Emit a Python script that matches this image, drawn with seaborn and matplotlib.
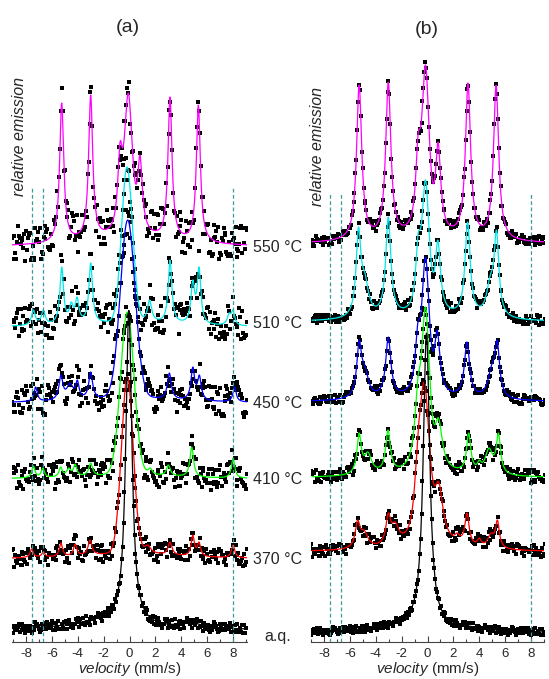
import numpy as np
import seaborn as sns
from matplotlib import pyplot as plt

sns.set_style('white')
plt.rcParams['font.family'] = ['Liberation Sans', 'DejaVu Sans']
plt.rcParams['mathtext.fontset'] = 'custom'
plt.rcParams['mathtext.it'] = 'Liberation Sans:italic'
plt.rcParams['mathtext.rm'] = 'Liberation Sans'
plt.rcParams['axes.unicode_minus'] = False

# spectrum labels and fit colours (top to bottom)
labels = ['550 °C', '510 °C', '450 °C', '410 °C', '370 °C', 'a.q.']
colors = ['#ff00ff', '#00e8e8', '#0000ff', '#00ff00', '#ff0000', '#000000']

# baseline offsets (relative emission units) and scatter of data points
a_baseline = [395, 315, 239, 163, 83, 12]
b_baseline = [398, 320, 240, 164, 90, 9]
a_noise = [15, 13, 12, 10, 7, 4]
b_noise = [4, 4, 3.5, 5, 5, 3]

# fitted lines: (position mm/s, height above baseline, HWHM mm/s, lorentz fraction)
a_lines = [
    [(-5.24, 144, .19, 1), (-3.0, 152, .19, 1), (-0.73, 105, .22, 1), (-0.09, 154, .35, .5),
     (0.81, 92, .22, 1), (3.13, 150, .19, 1), (5.32, 142, .19, 1)],
    [(-7.43, 17, .18, 1), (-6.66, 17, .18, 1), (-5.24, 60, .17, 1), (-4.5, 25, .18, 1),
     (-4.05, 30, .17, 1), (-3.0, 64, .17, 1), (-0.19, 160, .5, 0), (1.55, 27, .2, 1),
     (3.13, 67, .17, 1), (4.89, 47, .17, 1), (5.37, 60, .17, 1), (7.7, 14, .18, 1), (8.0, 17, .15, 1)],
    [(-7.25, 16, .15, 1), (-5.3, 28, .18, 1), (-4.6, 20, .3, 1), (-4.03, 23, .15, 1),
     (-3.0, 31, .18, 1), (-0.14, 183, .67, 0), (3.08, 30, .18, 1), (4.89, 36, .17, 1),
     (5.4, 28, .17, 1), (8.12, 16, .15, 1)],
    [(-7.43, 13, .15, 1), (-6.7, 11, .15, 1), (-5.32, 12, .15, 1), (-4.7, 11, .2, 1),
     (-4.2, 15, .15, 1), (-3.0, 16, .18, 1), (-0.17, 167, .61, 0), (1.6, 11, .2, 1),
     (3.0, 14, .18, 1), (4.81, 32, .17, 1), (8.0, 21, .15, 1)],
    [(-7.56, 10, .15, 1), (-6.66, 7, .15, 1), (-5.3, 16, .15, 1), (-4.2, 15, .15, 1),
     (-3.05, 19, .18, 1), (-0.17, 182, .53, 0), (1.4, 14, .3, 1), (3.13, 17, .18, 1),
     (4.89, 24, .15, 1), (5.37, 17, .15, 1), (8.0, 14, .15, 1)],
    [(-0.05, 320, .28, 1)],
]
a_background = [
    [(0, 9, 4.0)], [(0, 5, 3.5)], [(0, 6, 3.5)], [(0, 5, 3.5)], [(0, 6, 4.0)],
    [(-2, 8, 3.0), (4.8, 5, 1.0)],
]

b_lines = [
    [(-5.28, 159, .24, 1), (-3.03, 162, .24, 1), (-0.72, 111, .24, 1), (-0.15, 179, .32, .5),
     (0.82, 102, .24, 1), (3.13, 161, .24, 1), (5.3, 159, .24, 1)],
    [(-5.33, 95, .22, 1), (-4.85, 50, .35, 1), (-3.03, 105, .24, 1), (-0.72, 89, .24, 1),
     (-0.15, 142, .32, .5), (0.8, 82, .24, 1), (3.1, 100, .24, 1), (4.85, 47, .35, 1),
     (5.33, 92, .22, 1)],
    [(-5.28, 62, .22, 1), (-4.85, 37, .35, 1), (-3.03, 65, .24, 1), (-0.75, 79, .25, 1),
     (-0.15, 145, .32, .5), (0.75, 72, .25, 1), (3.05, 60, .24, 1), (4.95, 37, .35, 1),
     (5.38, 62, .22, 1)],
    [(-5.28, 45, .2, 1), (-4.6, 26, .35, 1), (-3.05, 48, .22, 1), (-0.75, 100, .3, 1),
     (-0.15, 171, .35, .5), (0.85, 60, .35, 1), (3.18, 45, .2, 1), (4.0, 18, .18, 1),
     (4.75, 30, .35, 1), (5.48, 45, .2, 1)],
    [(-5.4, 32, .22, 1), (-4.9, 22, .35, 1), (-3.03, 39, .22, 1), (-2.5, 30, .35, 1),
     (-0.73, 120, .35, 1), (-0.23, 169, .45, .5), (0.87, 70, .4, 1), (2.3, 19, .25, 1),
     (3.05, 39, .2, 1), (4.0, 14, .18, 1), (4.9, 19, .3, 1), (5.4, 32, .18, 1)],
    [(-0.08, 300, .3, 1)],
]
b_background = [
    [(0, 6, 4.0)], [(0, 5, 4.0)], [(0, 4, 4.0)], [(0, 4, 4.0)], [(0, 4, 4.0)],
    [(-2, 6, 3.0), (3, 3, 2.0)],
]

# hand-typed residual pattern for the measured points
residuals = [0.3, -0.8, 0.5, 0.1, -0.4, 0.9, -0.2, -0.7, 0.6, 0.0, -0.5, 0.8, -0.9, 0.2, 0.4,
             -0.3, 0.7, -0.6, 0.1, -0.1, 0.9, -0.4, 0.3, -0.8, 0.5, -0.2, 0.0, 0.6, -0.7, 0.4,
             -0.5, 0.2, 0.8, -0.3, -0.9, 0.1, 0.5, -0.6, 0.3, 0.7, -0.1, -0.4, 0.9, -0.8, 0.2,
             0.0, -0.5, 0.6, -0.2, 0.4, -0.7, 0.1, 0.8, -0.3, 0.5, -0.9, 0.3, -0.1, 0.7, -0.6,
             0.2, -0.4, 0.6, 0.0, -0.8, 0.4, -0.2, 0.9, -0.5, 0.1, 0.3, -0.7, 0.5, -0.3, 0.8,
             -0.1, -0.6, 0.2, 0.7, -0.4, 0.0, 0.6, -0.9, 0.4, -0.2, 0.1, -0.5, 0.8, -0.3, 0.3,
             -0.8, 0.5, 0.2, -0.6, 0.9, -0.1, -0.4]

dashed_pos = [-7.55, -6.65, 7.97]
xticks = [-8, -6, -4, -2, 0, 2, 4, 6, 8]


def shape(x, x0, w, eta):
    u = (x - x0) / w
    return eta / (1 + u**2) + (1 - eta) * np.exp(-np.log(2) * u**2)


def fit_curve(x, lines, background):
    '''Sum of lines whose amplitudes give the read heights at the line positions'''
    bg = lambda v: sum(a / (1 + ((v - p) / w)**2) for p, a, w in background)
    pos = np.array([l[0] for l in lines])
    M = np.array([[shape(p, q, w, e) for q, _, w, e in lines] for p in pos])
    target = np.array([h for _, h, _, _ in lines]) - bg(pos)
    amp = np.linalg.solve(M, target)
    y = bg(x)
    for a, (q, _, w, e) in zip(amp, lines):
        y = y + a * shape(x, q, w, e)
    return y


def draw_panel(ax, baselines, lines, backgrounds, noise, xlim, dash_top):
    chan = np.linspace(-9.05, 9.05, 256)
    fine = np.linspace(xlim[0], xlim[1], 700)
    n = len(residuals)
    for i in range(6):
        idx = [(k * (7 + 2 * i) + 13 * i) % n for k in range(len(chan))]
        pts = baselines[i] + fit_curve(chan, lines[i], backgrounds[i]) + noise[i] * np.array(residuals)[idx] * 1.4
        sns.scatterplot(x=chan, y=pts, ax=ax, marker='s', s=12, color='black', linewidth=0, zorder=2)
    for i in range(6):
        sns.lineplot(x=fine, y=baselines[i] + fit_curve(fine, lines[i], backgrounds[i]), ax=ax,
                     color=colors[i], lw=0.9, zorder=3)
    ax.vlines(dashed_pos, 0, dash_top, colors='#3a9c9c', linestyles=(0, (3, 2)), lw=0.9, zorder=4)
    ax.set_xlim(*xlim)
    ax.set_ylim(0, 602)
    for s in ['left', 'right', 'top']:
        ax.spines[s].set_visible(False)
    ax.spines['bottom'].set_color('#444444')
    ax.set_yticks([])
    ax.set_xticks(xticks)
    ax.set_xticks(range(-9, 10, 2), minor=True)
    ax.tick_params(axis='x', which='major', direction='in', length=4, width=0.8, color='#444444',
                   labelsize=9.5, pad=4, bottom=True)
    ax.tick_params(axis='x', which='minor', direction='in', length=2.5, width=0.8, color='#444444', bottom=True)
    ax.set_xlabel(r'$\it{velocity}$ (mm/s)', fontsize=11, labelpad=0)


W, H = 549, 679
fig = plt.figure(figsize=(W / 100, H / 100), dpi=100)
ax_a = fig.add_axes([12 / W, 37 / H, 235 / W, 602 / H])
ax_b = fig.add_axes([311 / W, 37 / H, 233 / W, 602 / H])
draw_panel(ax_a, a_baseline, a_lines, a_background, a_noise, (-9.08, 9.08), 454)
draw_panel(ax_b, b_baseline, b_lines, b_background, b_noise, (-8.92, 9.0), 450)

fig.text(128 / W, 1 - 27 / H, '(a)', fontsize=14, ha='center', va='center')
fig.text(427 / W, 1 - 30 / H, '(b)', fontsize=14, ha='center', va='center')
fig.text(20 / W, 1 - 137 / H, 'relative emission', fontsize=11.5, style='italic',
         rotation=90, ha='center', va='center')
fig.text(317 / W, 1 - 146 / H, 'relative emission', fontsize=11.5, style='italic',
         rotation=90, ha='center', va='center')
label_y = [248, 323, 403, 480, 560, 637]
for lab, y in zip(labels, label_y):
    fig.text(278 / W, 1 - y / H, lab, fontsize=11.5, ha='center', va='center')

fig.savefig('out.png', dpi=100)
